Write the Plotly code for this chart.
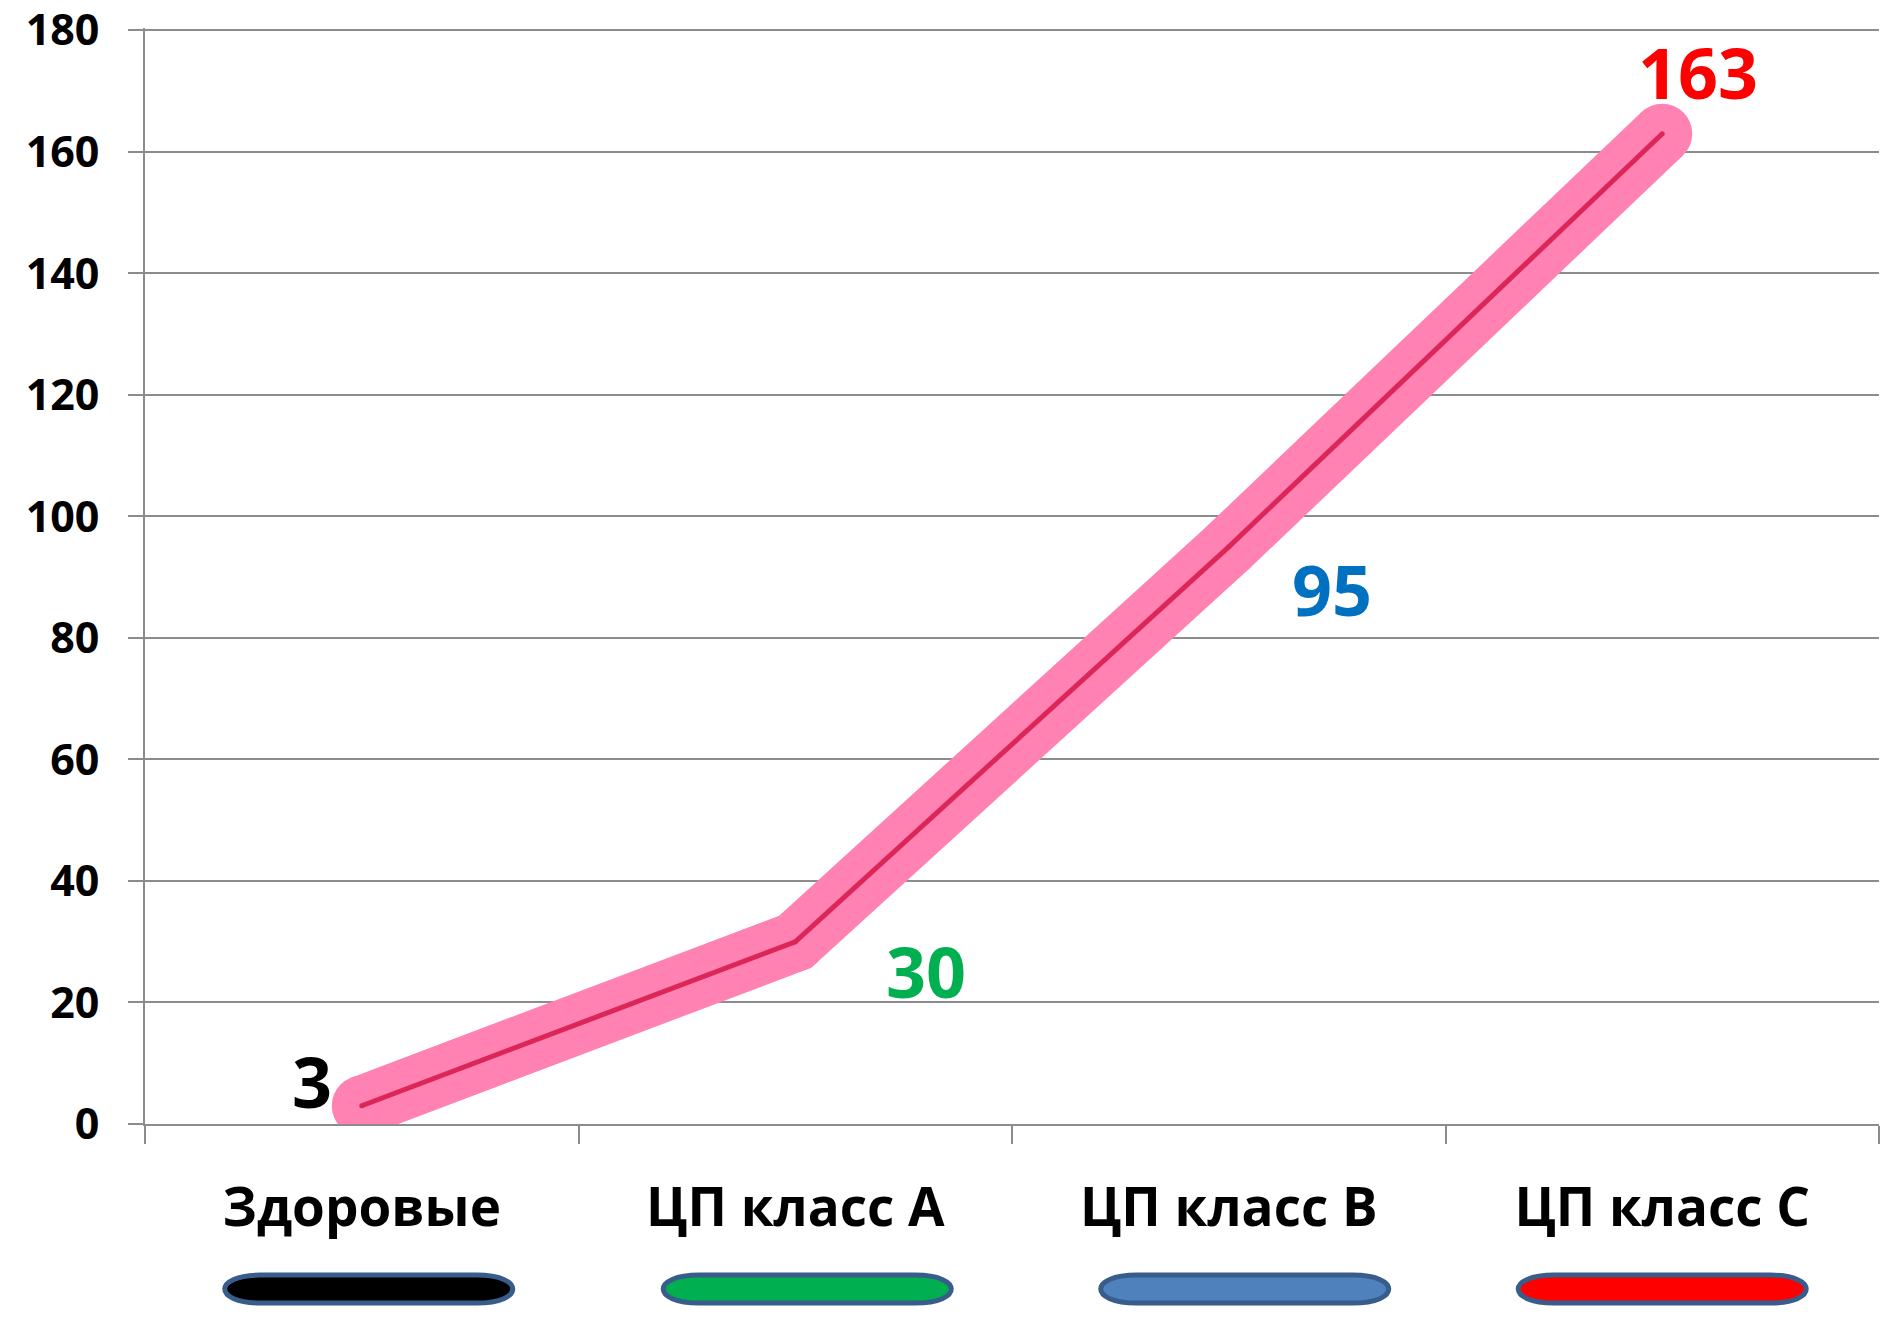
import plotly.graph_objects as go

categories = ["Здоровые", "ЦП класс A", "ЦП класс B", "ЦП класс C"]
values = [3, 30, 95, 163]
label_colors = ["#000000", "#00B050", "#0070C0", "#FF0000"]
pill_colors = ["#000000", "#00B050", "#4F81BD", "#FF0000"]
label_shifts = [(-50, 25), (131, -29), (103, -42), (36, 62)]
pill_offsets = [7, 12, 16, 0]
y_ticks = [0, 20, 40, 60, 80, 100, 120, 140, 160, 180]

FONT = "Open Sans"
GRID = "#8C8C8C"

fig = go.Figure()
# thick pink band with round joins/caps via markers
fig.add_trace(go.Scatter(
    x=categories, y=values, mode="lines+markers",
    line=dict(color="#FF82B2", width=60),
    marker=dict(color="#FF82B2", size=60, line=dict(width=0)),
    hoverinfo="skip", showlegend=False,
))
fig.add_trace(go.Scatter(
    x=categories, y=values, mode="lines+markers",
    line=dict(color="#DC2658", width=5),
    marker=dict(color="#DC2658", size=5, line=dict(width=0)),
    hoverinfo="skip", showlegend=False,
))

for cat, v, col, (dx, dy) in zip(categories, values, label_colors, label_shifts):
    fig.add_annotation(
        x=cat, y=v, text=str(v), showarrow=False,
        xshift=dx, yshift=dy,
        font=dict(family=FONT, size=70, color=col, weight=700),
    )

# pills under category labels (stadium with elliptical ends)
r = 14
rx = 36
half = 108


def pill(o):
    k = rx * 4 / 3
    return (f"M {o - half},{-r} L {o + half},{-r} "
            f"C {o + half + k},{-r} {o + half + k},{r} {o + half},{r} "
            f"L {o - half},{r} C {o - half - k},{r} {o - half - k},{-r} {o - half},{-r} Z")


for cat, col, off in zip(categories, pill_colors, pill_offsets):
    fig.add_shape(
        type="path", path=pill(off),
        xref="x", xanchor=cat, xsizemode="pixel",
        yref="paper", yanchor=-0.1506, ysizemode="pixel",
        fillcolor=col, line=dict(color="#385D8A", width=5),
    )

fig.update_layout(
    width=1895, height=1321,
    margin=dict(l=145, r=16, t=28, b=197),
    paper_bgcolor="white", plot_bgcolor="white",
    font=dict(family=FONT, color="black"),
)
fig.update_xaxes(
    type="category", range=[-0.5, 3.5], tickson="boundaries",
    ticks="outside", ticklen=18, tickwidth=2, tickcolor=GRID,
    showline=True, linecolor=GRID, linewidth=2,
    showgrid=False, ticklabelstandoff=36, automargin=False,
    ticklabeloverflow="allow",
    tickfont=dict(family=FONT, size=53, color="black", weight=700),
)
fig.update_yaxes(
    range=[0, 180.4], tickvals=y_ticks, ticktext=[str(t) for t in y_ticks],
    ticks="outside", ticklen=15, tickwidth=2, tickcolor=GRID,
    showline=True, linecolor=GRID, linewidth=2,
    showgrid=True, gridcolor=GRID, gridwidth=2, zeroline=False,
    ticklabelstandoff=20, automargin=False, ticklabeloverflow="allow",
    tickfont=dict(family=FONT, size=43, color="black", weight=700),
)

fig.write_html("out.html", config={"displayModeBar": False},
               post_script="document.body.style.margin='0';")
